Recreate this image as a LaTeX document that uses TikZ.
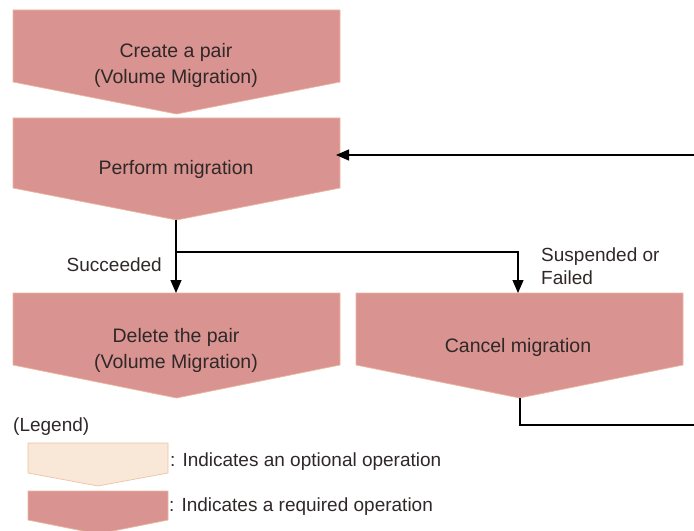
\documentclass[tikz,border=0pt]{standalone}
\usepackage{fontspec}
\setmainfont{Liberation Sans}
\usetikzlibrary{arrows.meta}
\definecolor{reqfill}{RGB}{217,147,144}
\definecolor{reqline}{RGB}{236,182,160}
\definecolor{optfill}{RGB}{249,231,215}
\definecolor{optline}{RGB}{236,196,165}
\definecolor{txt}{RGB}{48,40,40}
\newcommand\chevshape[6]{%
  % #1 style, #2 left x, #3 right x, #4 top y, #5 side y, #6 tip y
  \path[#1] (#2,#4) -- (#3,#4) -- (#3,#5) -- ({(#2+#3)/2},#6) -- (#2,#5) -- cycle;}
\begin{document}
\begin{tikzpicture}[x=1bp,y=-1bp,
  required/.style={fill=reqfill,draw=reqline,line width=0.7bp},
  optional/.style={fill=optfill,draw=optline,line width=0.7bp},
  boxtext/.style={text=txt,font=\fontsize{19.5bp}{26bp}\selectfont,align=center,inner sep=0pt},
  labeltext/.style={text=txt,font=\fontsize{19bp}{23bp}\selectfont,align=left,inner sep=0pt},
  conn/.style={line width=1.2bp,draw=black},
  arr/.style={conn,-{Triangle[length=13bp,width=11bp]}}]
\useasboundingbox (0,0) rectangle (694,531);
% chevrons
\chevshape{required}{13}{340}{10}{82}{114}
\chevshape{required}{13}{340}{118}{188}{220}
\chevshape{required}{13}{340}{293}{365}{398}
\chevshape{required}{356}{683}{293}{365}{398}
\chevshape{optional}{28}{168}{443}{473}{486}
\chevshape{required}{28}{168}{491}{520}{534}
% texts
\node[boxtext] (create) at (176,65) {Create a pair\\(Volume Migration)};
\node[boxtext,anchor=base] (perform) at (176,174.5) {Perform migration};
\node[boxtext] (delete) at (176,350) {Delete the pair\\(Volume Migration)};
\node[boxtext,anchor=base] (cancel) at (518,352) {Cancel migration};
\node[labeltext,anchor=base east] (succ) at (162,272) {Succeeded};
\node[labeltext,anchor=north west] (susp) at (541,248) {Suspended or\\Failed};
\node[labeltext,anchor=base west] (legend) at (13,431) {(Legend)};
\node[labeltext,anchor=base west] (legopt) at (170,466) {: Indicates an optional operation};
\node[labeltext,anchor=base west] (legreq) at (169,511) {: Indicates a required operation};
% connector coordinates
\coordinate (performtip) at (176,220);
\coordinate (deletetop) at (176,293);
\coordinate (branch) at (176,252);
\coordinate (canceltop) at (518,293);
\coordinate (canceltip) at (520,398);
\coordinate (retlow) at (694,425);
\coordinate (rethigh) at (694,155);
\coordinate (performeast) at (336,155);
% connectors
\draw[arr] (performtip) -- (deletetop);
\draw[arr] (branch) -| (canceltop);
\draw[conn] (canceltip) |- (retlow);
\draw[arr] (rethigh) -- (performeast);
\end{tikzpicture}
\end{document}
